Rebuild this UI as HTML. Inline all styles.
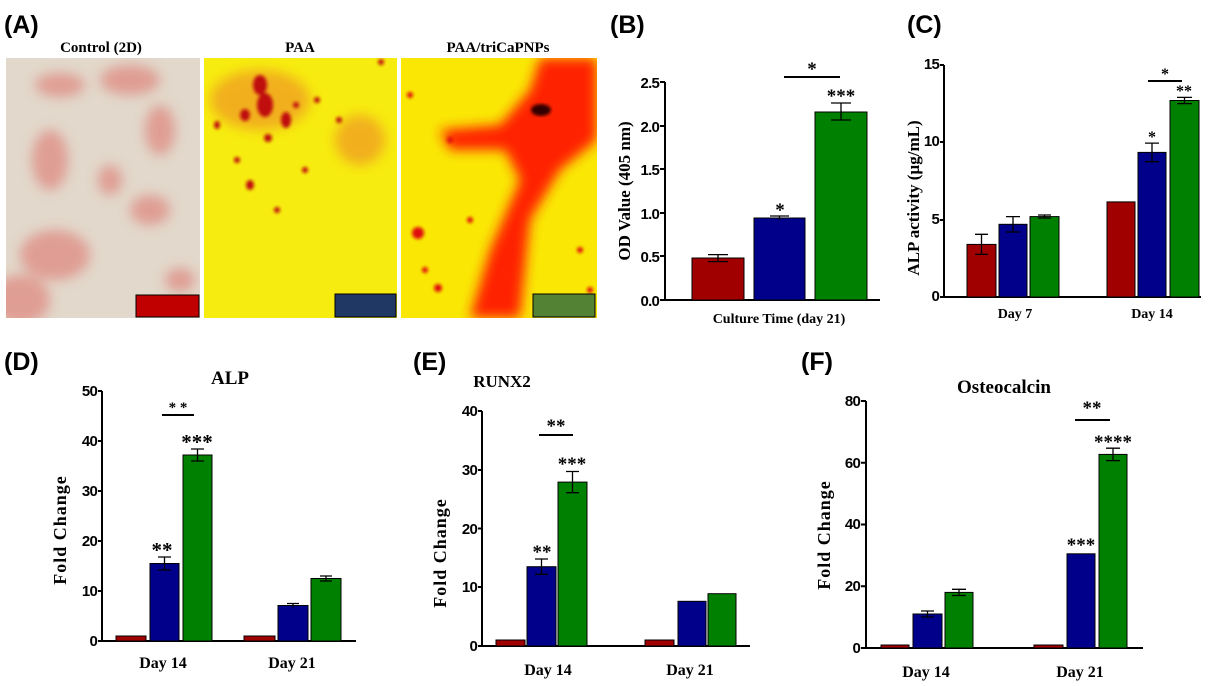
<!DOCTYPE html>
<html><head><meta charset="utf-8"><style>
html,body{margin:0;padding:0;background:#fff;}
svg{display:block}
.pl{font-family:"Liberation Sans",sans-serif;font-weight:bold;font-size:25px;}
.t{font-family:"Liberation Serif",serif;font-weight:bold;}
.tk{font-family:"Liberation Sans",sans-serif;font-weight:bold;font-size:15px;letter-spacing:-0.8px;}
.r{fill:#a00000;stroke:#000;stroke-width:1}
.b{fill:#00008b;stroke:#000;stroke-width:1}
.g{fill:#008000;stroke:#000;stroke-width:1}
.ax{stroke:#000;stroke-width:2;fill:none}
.e{stroke:#000;stroke-width:1.3;fill:none}
</style></head><body>
<svg width="1219" height="686" viewBox="0 0 1219 686" xmlns="http://www.w3.org/2000/svg">
<defs>
<filter id="bl" x="-20%" y="-20%" width="140%" height="140%"><feGaussianBlur stdDeviation="6"/></filter>
<filter id="bl2"><feGaussianBlur stdDeviation="1.5"/></filter>
<clipPath id="c1"><rect x="6" y="58" width="194" height="260"/></clipPath>
<clipPath id="c2"><rect x="204" y="58" width="193" height="260"/></clipPath>
<clipPath id="c3"><rect x="401" y="58" width="196" height="260"/></clipPath>
</defs>
<!-- Panel A -->
<text class="pl" x="4" y="33">(A)</text>
<text class="t" x="101" y="52" font-size="15" text-anchor="middle">Control (2D)</text>
<text class="t" x="300" y="52" font-size="15" text-anchor="middle">PAA</text>
<text class="t" x="498" y="52" font-size="15" text-anchor="middle">PAA/triCaPNPs</text>
<g clip-path="url(#c1)">
<rect x="6" y="58" width="194" height="260" fill="#e2d8cb"/>
<g filter="url(#bl)" fill="#df8f86" opacity="0.8">
<ellipse cx="130" cy="80" rx="30" ry="15"/><ellipse cx="60" cy="85" rx="25" ry="12"/>
<ellipse cx="55" cy="255" rx="35" ry="25"/><ellipse cx="20" cy="300" rx="30" ry="25"/>
<ellipse cx="150" cy="210" rx="20" ry="15"/><ellipse cx="50" cy="160" rx="18" ry="30"/>
<ellipse cx="160" cy="130" rx="15" ry="25"/><ellipse cx="110" cy="180" rx="12" ry="15"/>
<ellipse cx="180" cy="280" rx="15" ry="12"/>
</g>
</g>
<g clip-path="url(#c2)">
<rect x="204" y="58" width="193" height="260" fill="#f7ec10"/>
<g filter="url(#bl)" fill="#f0a020" opacity="0.8">
<ellipse cx="260" cy="100" rx="50" ry="30"/><ellipse cx="360" cy="140" rx="25" ry="25"/>
</g>
<g fill="#c01010" filter="url(#bl2)">
<ellipse cx="260" cy="85" rx="7" ry="10"/><ellipse cx="265" cy="105" rx="8" ry="12"/><ellipse cx="245" cy="115" rx="5" ry="6"/>
<ellipse cx="286" cy="120" rx="5" ry="8"/><ellipse cx="217" cy="125" rx="3" ry="4"/><ellipse cx="250" cy="185" rx="4" ry="5"/>
<circle cx="237" cy="160" r="3"/><circle cx="268" cy="138" r="4"/><circle cx="296" cy="105" r="3"/><circle cx="317" cy="100" r="3"/>
<circle cx="277" cy="210" r="3"/><circle cx="305" cy="170" r="3"/><circle cx="339" cy="120" r="3"/><circle cx="381" cy="62" r="3"/>
</g>
</g>
<g clip-path="url(#c3)">
<rect x="401" y="58" width="196" height="260" fill="#fae804"/>
<g filter="url(#bl)" fill="#ff2000">
<path d="M540 58 L597 58 L597 140 L560 170 L530 220 L520 318 L470 318 L490 250 L520 180 L505 150 L450 150 L440 130 L500 125 L530 90 Z"/>
</g>
<g fill="#e01010" filter="url(#bl2)">
<circle cx="418" cy="233" r="6"/><circle cx="438" cy="288" r="4"/><circle cx="410" cy="95" r="3"/><circle cx="450" cy="140" r="3"/>
<circle cx="470" cy="220" r="3"/><circle cx="580" cy="250" r="3"/><circle cx="590" cy="290" r="3"/><circle cx="425" cy="270" r="3"/>
</g>
<ellipse cx="541" cy="110" rx="10" ry="6" fill="#300" filter="url(#bl2)"/>
</g>
<rect x="136" y="295" width="63" height="22" fill="#c00000" stroke="#000"/>
<rect x="335" y="294" width="61" height="23" fill="#1f3864" stroke="#000"/>
<rect x="533" y="294" width="62" height="23" fill="#548235" stroke="#000"/>

<!-- Panel B -->
<text class="pl" x="610" y="33">(B)</text>
<g class="tk" text-anchor="end" font-size="16">
<text x="659" y="306">0.0</text><text x="659" y="262">0.5</text><text x="659" y="219">1.0</text>
<text x="659" y="175">1.5</text><text x="659" y="132">2.0</text><text x="659" y="88">2.5</text>
</g>
<path class="ax" d="M665 82 V300 H880 M660 300 H665 M660 256 H665 M660 213 H665 M660 169 H665 M660 126 H665 M660 82 H665"/>
<rect class="r" x="692" y="258" width="52" height="42"/>
<rect class="b" x="754" y="218" width="51" height="82"/>
<rect class="g" x="815" y="112" width="52" height="188"/>
<path class="e" d="M718 254.6 V261.6 M708 254.6 H728 M708 261.6 H728 M779.5 216 V220 M770 216 H789 M841 103 V120 M831 103 H851 M831 120 H851"/>
<path class="ax" d="M784 77 H840"/>
<text class="t" x="812" y="75" font-size="19" text-anchor="middle">*</text>
<text class="t" x="780" y="216" font-size="19" text-anchor="middle">*</text>
<text class="t" x="841" y="102" font-size="19" text-anchor="middle">***</text>
<text class="t" x="779" y="323" font-size="14" text-anchor="middle">Culture Time (day 21)</text>
<text class="t" font-size="17" transform="translate(630 191) rotate(-90)" text-anchor="middle">OD Value (405 nm)</text>

<!-- Panel C -->
<text class="pl" x="907" y="33">(C)</text>
<g class="tk" text-anchor="end" font-size="12">
<text x="939" y="301">0</text><text x="939" y="224">5</text><text x="939" y="146">10</text><text x="939" y="69">15</text>
</g>
<path class="ax" d="M944 65 V297 H1201 M940 297 H944 M940 220 H944 M940 142 H944 M940 65 H944" stroke-width="1.6"/>
<rect class="r" x="967" y="244.4" width="29" height="52.6"/>
<rect class="b" x="999" y="224.3" width="28" height="72.7"/>
<rect class="g" x="1030" y="216.6" width="29" height="80.4"/>
<rect class="r" x="1107" y="201.9" width="28" height="95.1"/>
<rect class="b" x="1138" y="152.4" width="28" height="144.6"/>
<rect class="g" x="1170" y="100.5" width="29" height="196.5"/>
<path class="e" d="M981.5 234.3 V254.4 M975 234.3 H988 M975 254.4 H988 M1013 216.6 V232 M1006 216.6 H1020 M1006 232 H1020 M1044.5 215 V218 M1038 215 H1051 M1038 218 H1051 M1152 143.1 V161.7 M1145 143.1 H1159 M1145 161.7 H1159 M1184.5 97.4 V103.6 M1177 97.4 H1192 M1177 103.6 H1192"/>
<path class="ax" d="M1148 81 H1182"/>
<text class="t" x="1165" y="79" font-size="16" text-anchor="middle">*</text>
<text class="t" x="1152" y="142" font-size="16" text-anchor="middle">*</text>
<text class="t" x="1184" y="96" font-size="16" text-anchor="middle">**</text>
<text class="t" x="1015" y="318" font-size="14" text-anchor="middle">Day 7</text>
<text class="t" x="1152" y="318" font-size="14" text-anchor="middle">Day 14</text>
<text class="t" font-size="17" transform="translate(919 198) rotate(-90)" text-anchor="middle">ALP activity (µg/mL)</text>

<!-- Panel D -->
<text class="pl" x="4" y="370">(D)</text>
<text class="t" x="230" y="384" font-size="19" text-anchor="middle">ALP</text>
<g class="tk" text-anchor="end">
<text x="97" y="646">0</text><text x="97" y="596">10</text><text x="97" y="546">20</text>
<text x="97" y="496">30</text><text x="97" y="446">40</text><text x="97" y="396">50</text>
</g>
<path class="ax" d="M102 391 V641 H356 M98 641 H102 M98 591 H102 M98 541 H102 M98 491 H102 M98 441 H102 M98 391 H102"/>
<rect class="r" x="116" y="636" width="30" height="5"/>
<rect class="b" x="150" y="563.5" width="29" height="77.5"/>
<rect class="g" x="183" y="455" width="29" height="186"/>
<rect class="r" x="244" y="636" width="31" height="5"/>
<rect class="b" x="278" y="605.5" width="30" height="35.5"/>
<rect class="g" x="311" y="578.5" width="30" height="62.5"/>
<path class="e" d="M164.5 557 V570 M158 557 H171 M158 570 H171 M197.5 449 V461 M191 449 H204 M191 461 H204 M293 603.5 V607.5 M287 603.5 H299 M326 576 V581 M320 576 H332 M320 581 H332"/>
<path class="ax" d="M162 415 H194"/>
<text class="t" x="178" y="412" font-size="15" text-anchor="middle">* *</text>
<text class="t" x="162" y="557" font-size="21" text-anchor="middle">**</text>
<text class="t" x="197" y="449" font-size="21" text-anchor="middle">***</text>
<text class="t" x="163" y="668" font-size="16" text-anchor="middle">Day 14</text>
<text class="t" x="292" y="668" font-size="16" text-anchor="middle">Day 21</text>
<text class="t" font-size="18" letter-spacing="1" transform="translate(66 530) rotate(-90)" text-anchor="middle">Fold Change</text>

<!-- Panel E -->
<text class="pl" x="413" y="370">(E)</text>
<text class="t" x="502" y="387" font-size="17" text-anchor="middle">RUNX2</text>
<g class="tk" text-anchor="end">
<text x="477" y="651">0</text><text x="477" y="592">10</text><text x="477" y="534">20</text>
<text x="477" y="475">30</text><text x="477" y="416">40</text>
</g>
<path class="ax" d="M482 411 V646 H750 M478 646 H482 M478 587 H482 M478 528.5 H482 M478 470 H482 M478 411 H482" stroke-width="1.5"/>
<rect class="r" x="496" y="640" width="29" height="6"/>
<rect class="b" x="527" y="566.7" width="29" height="79.3"/>
<rect class="g" x="558" y="482.1" width="29" height="163.9"/>
<rect class="r" x="645" y="640" width="29" height="6"/>
<rect class="b" x="678" y="601.3" width="28" height="44.7"/>
<rect class="g" x="708" y="593.7" width="28" height="52.3"/>
<path class="e" d="M541.5 559 V574.3 M535 559 H548 M535 574.3 H548 M572.5 471.5 V492.7 M566 471.5 H579 M566 492.7 H579"/>
<path class="ax" d="M539 435 H573"/>
<text class="t" x="556" y="432" font-size="19" text-anchor="middle">**</text>
<text class="t" x="542" y="558" font-size="19" text-anchor="middle">**</text>
<text class="t" x="572" y="470" font-size="19" text-anchor="middle">***</text>
<text class="t" x="548" y="675" font-size="16" text-anchor="middle">Day 14</text>
<text class="t" x="690" y="675" font-size="16" text-anchor="middle">Day 21</text>
<text class="t" font-size="18" letter-spacing="1" transform="translate(446 553) rotate(-90)" text-anchor="middle">Fold Change</text>

<!-- Panel F -->
<text class="pl" x="801" y="370">(F)</text>
<text class="t" x="1004" y="393" font-size="19" text-anchor="middle">Osteocalcin</text>
<g class="tk" text-anchor="end">
<text x="860" y="653">0</text><text x="860" y="591">20</text><text x="860" y="529">40</text>
<text x="860" y="468">60</text><text x="860" y="406">80</text>
</g>
<path class="ax" d="M866 401 V648 H1143 M861 648 H866 M861 586.3 H866 M861 524.5 H866 M861 462.8 H866 M861 401 H866"/>
<rect class="r" x="881" y="645" width="28" height="3"/>
<rect class="b" x="913" y="614" width="29" height="34"/>
<rect class="g" x="945" y="592.4" width="28" height="55.6"/>
<rect class="r" x="1034" y="645" width="29" height="3"/>
<rect class="b" x="1067" y="553.8" width="28" height="94.2"/>
<rect class="g" x="1099" y="454.4" width="28" height="193.6"/>
<path class="e" d="M927.5 611 V617 M921 611 H934 M921 617 H934 M959 589.3 V595.5 M952 589.3 H966 M952 595.5 H966 M1113 448.2 V460.6 M1106 448.2 H1120 M1106 460.6 H1120"/>
<path class="ax" d="M1075 420 H1110"/>
<text class="t" x="1092" y="414" font-size="19" text-anchor="middle">**</text>
<text class="t" x="1081" y="551" font-size="19" text-anchor="middle">***</text>
<text class="t" x="1113" y="448" font-size="19" text-anchor="middle">****</text>
<text class="t" x="926" y="677" font-size="16" text-anchor="middle">Day 14</text>
<text class="t" x="1080" y="677" font-size="16" text-anchor="middle">Day 21</text>
<text class="t" font-size="18" letter-spacing="1" transform="translate(830 535) rotate(-90)" text-anchor="middle">Fold Change</text>
</svg>
</body></html>
